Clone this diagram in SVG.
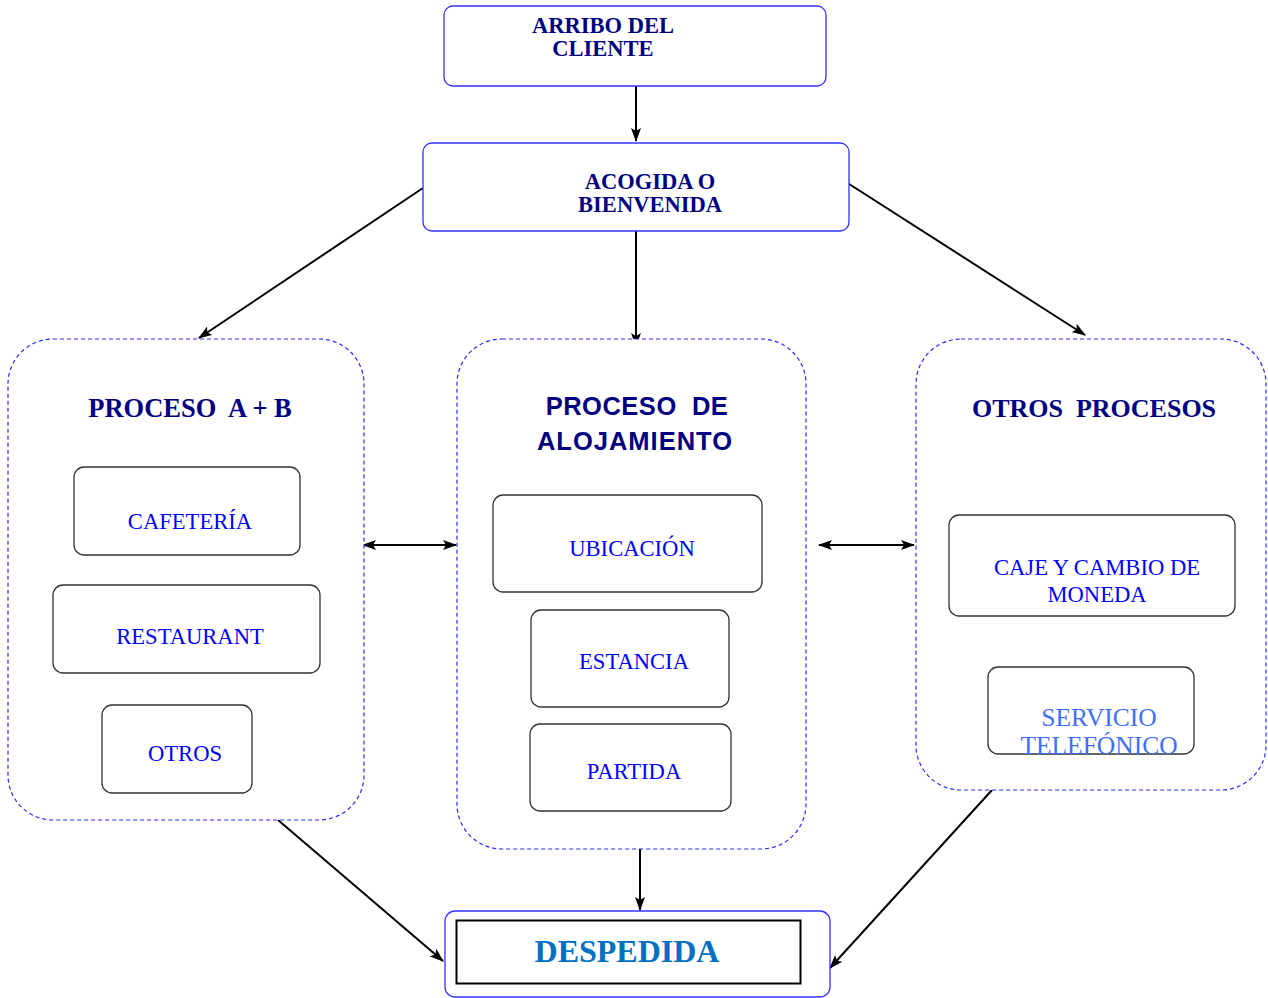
<svg xmlns="http://www.w3.org/2000/svg" width="1268" height="998" viewBox="0 0 1268 998">
  <defs>
    <marker id="arrow" viewBox="0 0 14 10" refX="13" refY="5" markerWidth="14" markerHeight="10" markerUnits="userSpaceOnUse" orient="auto-start-reverse">
      <path d="M0,0 L14,5 L0,10 L3,5 Z" fill="#000"/>
    </marker>
    <style>
      .main { fill: #fff; stroke: #3333ff; stroke-width: 1.3; }
      .group { fill: #fff; stroke: #2a2aff; stroke-width: 1.2; stroke-dasharray: 4 3; }
      .item { fill: #fff; stroke: #333; stroke-width: 1.3; }
      .conn { stroke: #000; stroke-width: 2; fill: none; }
      .head { font-family: "Liberation Serif", serif; font-weight: bold; fill: #000080; text-anchor: middle; }
      .headsans { font-family: "Liberation Sans", sans-serif; font-weight: bold; fill: #000080; text-anchor: middle; }
      .lbl { font-family: "Liberation Serif", serif; font-size: 22.6px; fill: #0000ff; text-anchor: middle; }
    </style>
  </defs>

  <rect width="1268" height="998" fill="#fff"/>

  <g id="connectors">
    <line class="conn" x1="636" y1="86" x2="636" y2="141" marker-end="url(#arrow)"/>
    <line class="conn" x1="423" y1="188" x2="199" y2="338" marker-end="url(#arrow)"/>
    <line class="conn" x1="636" y1="231" x2="636" y2="346" marker-end="url(#arrow)"/>
    <line class="conn" x1="846" y1="182" x2="1085" y2="335" marker-end="url(#arrow)"/>
    <line class="conn" x1="363" y1="545" x2="456" y2="545" marker-start="url(#arrow)" marker-end="url(#arrow)"/>
    <line class="conn" x1="819" y1="545" x2="914" y2="545" marker-start="url(#arrow)" marker-end="url(#arrow)"/>
    <line class="conn" x1="640" y1="849" x2="640" y2="910" marker-end="url(#arrow)"/>
    <line class="conn" x1="278" y1="820" x2="443" y2="961" marker-end="url(#arrow)"/>
    <line class="conn" x1="992" y1="790" x2="830" y2="968" marker-end="url(#arrow)"/>
  </g>

  <g id="arribo">
    <rect class="main" x="444" y="6" width="382" height="80" rx="9"/>
    <text class="head" font-size="22.5" x="603" y="33">ARRIBO DEL</text>
    <text class="head" font-size="22.5" x="603" y="56">CLIENTE</text>
  </g>

  <g id="acogida">
    <rect class="main" x="423" y="143" width="426" height="88" rx="9"/>
    <text class="head" font-size="22.5" x="650" y="189">ACOGIDA O</text>
    <text class="head" font-size="22.5" x="650" y="212">BIENVENIDA</text>
  </g>

  <g id="proceso-ab">
    <rect class="group" x="8" y="339" width="356" height="481" rx="45"/>
    <text class="head" font-size="26.5" x="190" y="417" xml:space="preserve">PROCESO  A + B</text>
  </g>
  <g id="cafeteria">
    <rect class="item" x="74" y="467" width="226" height="88" rx="10"/>
    <text class="lbl" x="190" y="529">CAFETERÍA</text>
  </g>
  <g id="restaurant">
    <rect class="item" x="53" y="585" width="267" height="88" rx="10"/>
    <text class="lbl" x="190" y="644">RESTAURANT</text>
  </g>
  <g id="otros">
    <rect class="item" x="102" y="705" width="150" height="88" rx="10"/>
    <text class="lbl" x="185" y="761">OTROS</text>
  </g>

  <g id="proceso-alojamiento">
    <rect class="group" x="457" y="339" width="349" height="510" rx="45"/>
    <text class="headsans" font-size="25.5" x="637" y="415" letter-spacing="0.5" xml:space="preserve">PROCESO  DE</text>
    <text class="headsans" font-size="25.5" x="635" y="450" letter-spacing="1">ALOJAMIENTO</text>
  </g>
  <g id="ubicacion">
    <rect class="item" x="493" y="495" width="269" height="97" rx="10"/>
    <text class="lbl" x="632" y="556">UBICACIÓN</text>
  </g>
  <g id="estancia">
    <rect class="item" x="531" y="610" width="198" height="97" rx="10"/>
    <text class="lbl" x="634" y="669">ESTANCIA</text>
  </g>
  <g id="partida">
    <rect class="item" x="530" y="724" width="201" height="87" rx="10"/>
    <text class="lbl" x="634" y="779">PARTIDA</text>
  </g>

  <g id="otros-procesos">
    <rect class="group" x="916" y="339" width="350" height="451" rx="45"/>
    <text class="head" font-size="26" x="1094" y="417" xml:space="preserve">OTROS  PROCESOS</text>
  </g>
  <g id="caje">
    <rect class="item" x="949" y="515" width="286" height="101" rx="10"/>
    <text class="lbl" x="1097" y="575">CAJE Y CAMBIO DE</text>
    <text class="lbl" x="1097" y="602">MONEDA</text>
  </g>
  <g id="servicio">
    <rect class="item" x="988" y="667" width="206" height="87" rx="10"/>
    <text class="lbl" x="1099" y="726" style="fill:#3f6fff;font-size:25.5px">SERVICIO</text>
    <text class="lbl" x="1099" y="754" style="fill:#3f6fff;font-size:25.5px">TELEFÓNICO</text>
  </g>

  <g id="despedida">
    <rect class="main" x="445" y="911" width="385" height="86" rx="10"/>
    <rect x="456.5" y="920.5" width="344" height="63" fill="#fff" stroke="#000" stroke-width="2"/>
    <text class="head" font-size="32" x="627" y="962" style="fill:#0070c0">DESPEDIDA</text>
  </g>
</svg>
